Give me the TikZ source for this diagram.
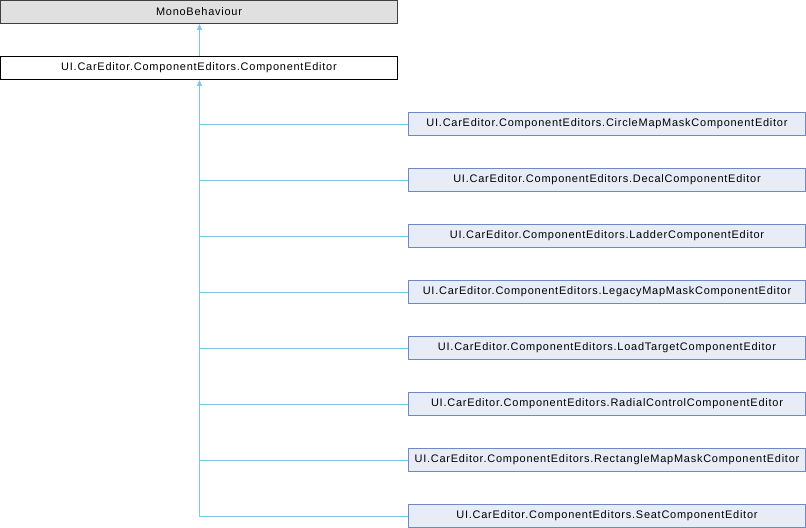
\documentclass[tikz,border=0pt]{standalone}
\usepackage{fontspec}
\setmainfont{Liberation Sans}
\newfontfamily\diagfont[LetterSpace=7]{Liberation Sans}
\usetikzlibrary{arrows.meta}
\definecolor{edgeblue}{RGB}{130,195,232}
\definecolor{childfill}{RGB}{232,236,246}
\definecolor{childdraw}{RGB}{108,138,200}
\definecolor{topfill}{RGB}{224,224,224}
\definecolor{topdraw}{RGB}{64,64,64}
\tikzset{
  box/.style={draw, minimum height=23bp, inner sep=0pt, font=\diagfont\fontsize{11}{13}\selectfont, line width=1bp},
  parentbox/.style={box, minimum width=397bp},
  childbox/.style={box, minimum width=397bp, fill=childfill, draw=childdraw},
  inh/.style={draw=edgeblue, line width=1bp},
  inharrow/.style={inh, -{Triangle[length=6bp,width=5bp,fill=edgeblue]}},
}
\begin{document}
\begin{tikzpicture}[x=1bp,y=-1bp]
\useasboundingbox (0,0) rectangle (806,528);
\node[parentbox, fill=topfill, draw=topdraw] (mono) at (199,12) {MonoBehaviour};
\node[parentbox, fill=white, draw=black] (ce) at (199,68) {UI.CarEditor.ComponentEditors.ComponentEditor};
\draw[inharrow] ([xshift=0.5bp]ce.north) -- ([xshift=0.5bp]mono.south);
\foreach \n/\t [count=\i] in {c1/CircleMapMaskComponentEditor, c2/DecalComponentEditor, c3/LadderComponentEditor, c4/LegacyMapMaskComponentEditor, c5/LoadTargetComponentEditor, c6/RadialControlComponentEditor, c7/RectangleMapMaskComponentEditor, c8/SeatComponentEditor}{
  \node[childbox] (\n) at (607,68+56*\i) {UI.CarEditor.ComponentEditors.\t};
  \coordinate (j\i) at ([xshift=0.5bp]ce.south |- \n.west);
  \draw[inh] ([yshift=-0.5bp]\n.west) -- ([yshift=-0.5bp]j\i);
}
\draw[inharrow] ([yshift=-1bp]j8) -- ([xshift=0.5bp]ce.south);
\end{tikzpicture}
\end{document}
